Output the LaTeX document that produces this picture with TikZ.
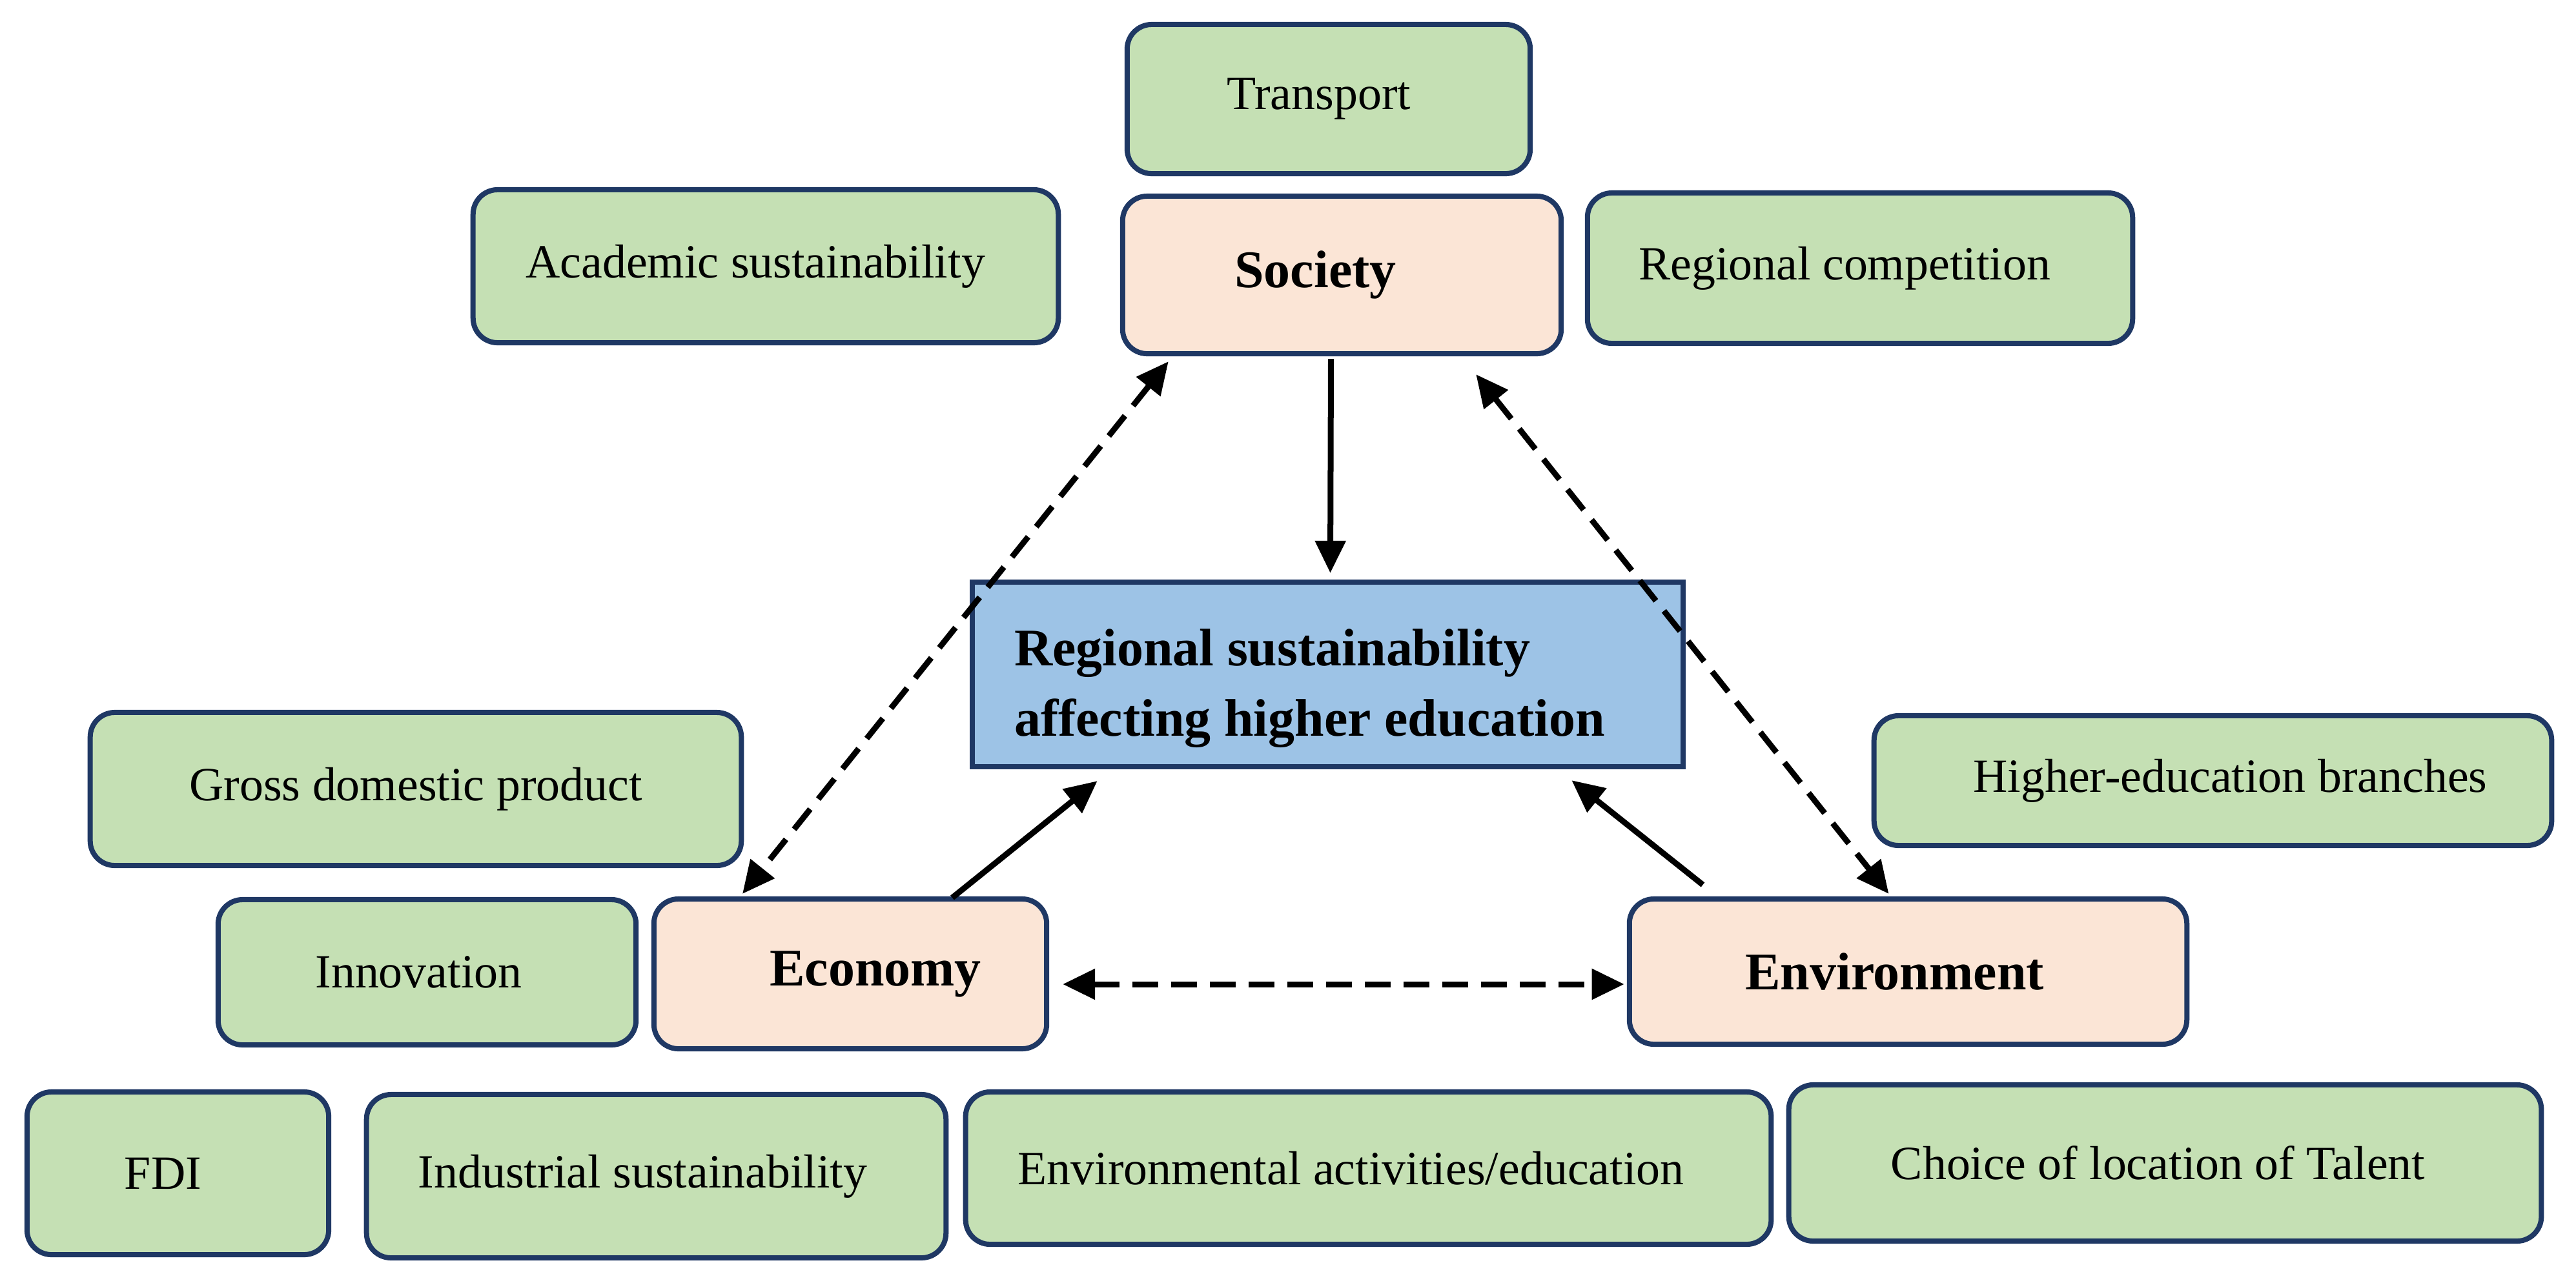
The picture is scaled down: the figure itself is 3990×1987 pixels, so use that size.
\documentclass[tikz,border=0pt]{standalone}
\usepackage{fontspec}
\setmainfont{Liberation Serif}
\usetikzlibrary{arrows.meta,calc}
\definecolor{bordc}{RGB}{31,56,100}
\definecolor{greenf}{RGB}{197,224,180}
\definecolor{peachf}{RGB}{251,229,214}
\definecolor{bluef}{RGB}{157,195,230}
\newcommand{\padL}[2]{\hspace*{#1}#2}
\newcommand{\padR}[2]{#2\hspace*{#1}}
\begin{document}
\begin{tikzpicture}[x=0.01cm,y=-0.01cm,
  basebox/.style={draw=bordc, line width=0.08cm, inner sep=0pt, align=center},
  greenbox/.style={basebox, rounded corners=0.38cm, fill=greenf, font=\fontsize{21}{25}\selectfont},
  peachbox/.style={basebox, rounded corners=0.38cm, fill=peachf, font=\bfseries\fontsize{23.3}{28}\selectfont},
  bluebox/.style={basebox, fill=bluef, font=\bfseries\fontsize{23.3}{31}\selectfont},
  solidarrow/.style={line width=0.09cm, -{Triangle[length=0.5cm,width=0.46cm]}},
  dasharrow/.style={line width=0.09cm, {Triangle[length=0.5cm,width=0.46cm]}-{Triangle[length=0.5cm,width=0.46cm]}, dash pattern=on 0.4cm off 0.2cm},
]
\useasboundingbox (0,0) rectangle (3990,1987);

\node[greenbox, minimum width=6.24cm, minimum height=2.31cm] (transport) at (2058,153.5) {\padR{0.3cm}{Transport}};
\node[peachbox, minimum width=6.79cm, minimum height=2.44cm] (society) at (2078.5,426) {\padR{0.82cm}{Society}};
\node[greenbox, minimum width=8.44cm, minimum height=2.33cm] (regcomp) at (2881,415.5) {\padR{0.48cm}{Regional competition}};
\node[greenbox, minimum width=9.06cm, minimum height=2.37cm] (academic) at (1186,412.5) {\padR{0.32cm}{Academic sustainability}};
\node[greenbox, minimum width=10.08cm, minimum height=2.37cm] (gdp) at (644,1222.5) {Gross domestic product};
\node[greenbox, minimum width=6.47cm, minimum height=2.25cm] (innovation) at (661.5,1506.5) {\padR{0.26cm}{Innovation}};
\node[peachbox, minimum width=6.08cm, minimum height=2.32cm] (economy) at (1317,1509) {\padL{0.78cm}{Economy}};
\node[greenbox, minimum width=10.49cm, minimum height=2.01cm] (hebranches) at (3427.5,1209.5) {\padL{0.54cm}{Higher-education branches}};
\node[peachbox, minimum width=8.63cm, minimum height=2.25cm] (environment) at (2955.5,1505.5) {\padR{0.42cm}{Environment}};
\node[greenbox, minimum width=4.67cm, minimum height=2.52cm] (fdi) at (275.5,1818) {\padR{0.46cm}{FDI}};
\node[greenbox, minimum width=8.97cm, minimum height=2.53cm] (industrial) at (1016.5,1822.5) {\padR{0.42cm}{Industrial sustainability}};
\node[greenbox, minimum width=12.47cm, minimum height=2.36cm] (envact) at (2119.5,1810) {\padR{0.54cm}{Environmental activities/education}};
\node[greenbox, minimum width=11.65cm, minimum height=2.42cm] (choice) at (3353.5,1802) {\padR{0.22cm}{Choice of location of Talent}};
\node[bluebox, minimum width=11.01cm, minimum height=2.86cm] (blue) at (2056.5,1045) {\raisebox{-0.19cm}[\height][\depth]{\begin{tabular}{@{}l@{}}Regional sustainability\\affecting higher education\end{tabular}}\hspace*{0.56cm}};

\draw[solidarrow] ($(society.south)+(-17,4)$) -- ($(blue.north)+(4,-10)$);
\draw[solidarrow] ($(economy.north)+(158,2)$) -- ($(blue.south west)+(198,18)$);
\draw[solidarrow] ($(environment.north)+(-318,-18)$) -- ($(blue.south east)+(-177,17)$);
\draw[dasharrow] ($(society.south west)+(75,8)$) -- ($(economy.north)+(-167,-4)$);
\draw[dasharrow] ($(society.south east)+(-136,28)$) -- ($(environment.north)+(-30,-4)$);
\draw[dasharrow] ($(economy.east)+(21,16)$) -- ($(environment.west)+(-4,19.5)$);
\end{tikzpicture}
\end{document}
